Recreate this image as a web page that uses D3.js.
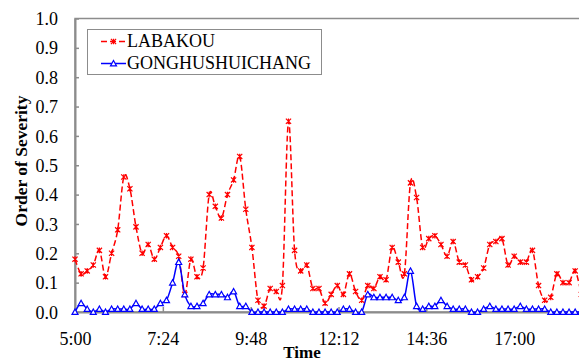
<!DOCTYPE html>
<html>
<head>
<meta charset="utf-8">
<script src="https://cdn.jsdelivr.net/npm/d3@7"></script>
<style>
  body { margin: 0; background: #fff; overflow: hidden; }
  svg { display: block; }
  text { font-family: "Liberation Serif", "Times New Roman", serif; fill: #000; }
</style>
</head>
<body>
<div id="chart"></div>
<script>
// series, one value per 10 minutes starting 5:00
var labakou = [0.18, 0.13, 0.14, 0.16, 0.21, 0.12, 0.20, 0.28, 0.46, 0.42,
  0.29, 0.20, 0.23, 0.18, 0.22, 0.26, 0.22, 0.19, 0.06, 0.18,
  0.12, 0.15, 0.40, 0.36, 0.32, 0.40, 0.45, 0.53, 0.35, 0.22,
  0.04, 0.02, 0.08, 0.07, 0.09, 0.65, 0.21, 0.14, 0.16, 0.08,
  0.08, 0.03, 0.06, 0.09, 0.06, 0.13, 0.07, 0.04, 0.09, 0.08,
  0.12, 0.11, 0.22, 0.17, 0.13, 0.44, 0.39, 0.22, 0.25, 0.26,
  0.23, 0.19, 0.24, 0.17, 0.16, 0.11, 0.12, 0.15, 0.23, 0.24,
  0.25, 0.16, 0.19, 0.17, 0.17, 0.21, 0.09, 0.04, 0.05, 0.13,
  0.10, 0.10, 0.14, 0.06];
var gonghu = [0.00, 0.03, 0.01, 0.00, 0.01, 0.00, 0.01, 0.01, 0.01, 0.01,
  0.03, 0.01, 0.01, 0.01, 0.03, 0.04, 0.10, 0.17, 0.06, 0.02,
  0.02, 0.03, 0.06, 0.06, 0.06, 0.05, 0.07, 0.02, 0.02, 0.00,
  0.00, 0.00, 0.00, 0.00, 0.00, 0.01, 0.01, 0.01, 0.01, 0.00,
  0.00, 0.00, 0.00, 0.00, 0.01, 0.01, 0.00, 0.00, 0.06, 0.05,
  0.05, 0.05, 0.05, 0.04, 0.05, 0.14, 0.02, 0.01, 0.02, 0.02,
  0.04, 0.02, 0.01, 0.01, 0.01, 0.00, 0.00, 0.01, 0.02, 0.01,
  0.01, 0.01, 0.01, 0.02, 0.01, 0.01, 0.01, 0.01, 0.00, 0.00,
  0.00, 0.00, 0.00, 0.00];
var seriesNames = ["LABAKOU", "GONGHUSHUICHANG"];
var startMinute = 300, stepMinute = 10;
var xTickValues = [300, 444, 588, 732, 876, 1020];
var xTickLabels = ["5:00", "7:24", "9:48", "12:12", "14:36", "17:00"];
var yTickValues = [0, 0.1, 0.2, 0.3, 0.4, 0.5, 0.6, 0.7, 0.8, 0.9, 1.0];

var width = 579, height = 362;
var grey = "#8c8c8c";

var svg = d3.select("#chart").append("svg")
  .attr("width", width)
  .attr("height", height);

// plot area runs past the right edge of the window, like the reference
var x = d3.scaleLinear().domain([300, 1164]).range([75, 602]);
var y = d3.scaleLinear().domain([0, 1]).range([312, 18.5]);

var minuteOf = function(i) { return startMinute + i * stepMinute; };

// plot border (top / right)
svg.append("rect")
  .attr("x", 75).attr("y", y(1))
  .attr("width", 602 - 75).attr("height", y(0) - y(1))
  .attr("fill", "none")
  .attr("stroke", grey).attr("stroke-width", 1.5);

// axes
var yAxis = d3.axisLeft(y).tickValues(yTickValues).tickFormat(d3.format(".1f"))
  .tickSizeInner(-4).tickSizeOuter(0).tickPadding(17);
var xAxis = d3.axisBottom(x).tickValues(xTickValues)
  .tickFormat(function(d, i) { return xTickLabels[i]; })
  .tickSizeInner(-5).tickSizeOuter(0).tickPadding(20);

var gy = svg.append("g").attr("transform", "translate(75,0)").call(yAxis);
var gx = svg.append("g").attr("transform", "translate(0," + y(0) + ")").call(xAxis);

[gx, gy].forEach(function(g) {
  g.select(".domain").attr("stroke", grey).attr("stroke-width", 2);
  g.selectAll(".tick line").attr("stroke", grey).attr("stroke-width", 1.5);
  g.selectAll(".tick text")
    .attr("font-family", "Liberation Serif, Times New Roman, serif")
    .attr("font-size", 18).attr("fill", "#000");
});
gy.selectAll(".tick text").attr("dy", "0.34em");
gx.selectAll(".tick text").attr("dy", "0.71em");

// axis titles
svg.append("text")
  .attr("transform", "translate(27,161) rotate(-90)")
  .attr("text-anchor", "middle")
  .attr("font-size", 17.5).attr("font-weight", "bold")
  .text("Order of Severity");

svg.append("text")
  .attr("x", 302).attr("y", 358)
  .attr("text-anchor", "middle")
  .attr("font-size", 17).attr("font-weight", "bold")
  .text("Time");

// lines
var line = d3.line()
  .x(function(d, i) { return x(minuteOf(i)); })
  .y(function(d) { return y(d); })
  .curve(d3.curveCardinal.tension(0));

svg.append("path")
  .datum(labakou)
  .attr("d", line)
  .attr("fill", "none")
  .attr("stroke", "#ff0000").attr("stroke-width", 1.5)
  .attr("stroke-dasharray", "6,3");

svg.append("path")
  .datum(gonghu)
  .attr("d", line)
  .attr("fill", "none")
  .attr("stroke", "#0000ff").attr("stroke-width", 1.5);

// markers
var starPath = "M-2.6,-2.6L2.6,2.6M-2.6,2.6L2.6,-2.6M0,-2.8L0,2.8";
var triPath = "M0,-3L3,2.4L-3,2.4Z";

svg.append("g").selectAll("path")
  .data(labakou).enter()
  .append("path")
  .attr("transform", function(d, i) { return "translate(" + x(minuteOf(i)) + "," + y(d) + ")"; })
  .attr("d", starPath)
  .attr("fill", "none")
  .attr("stroke", "#ff0000").attr("stroke-width", 1.2);

svg.append("g").selectAll("path")
  .data(gonghu).enter()
  .append("path")
  .attr("transform", function(d, i) { return "translate(" + x(minuteOf(i)) + "," + y(d) + ")"; })
  .attr("d", triPath)
  .attr("fill", "#fff")
  .attr("stroke", "#0000ff").attr("stroke-width", 1.2);

// legend
var legend = svg.append("g");
legend.append("rect")
  .attr("x", 87.5).attr("y", 29.5)
  .attr("width", 234).attr("height", 45)
  .attr("fill", "#fff")
  .attr("stroke", grey).attr("stroke-width", 1);

var legendRows = [
  { name: seriesNames[0], color: "#ff0000", dash: "6,3", marker: starPath, fill: "none", cy: 41.5 },
  { name: seriesNames[1], color: "#0000ff", dash: null, marker: triPath, fill: "#fff", cy: 63.5 }
];
legendRows.forEach(function(r) {
  legend.append("line")
    .attr("x1", 101).attr("x2", 126)
    .attr("y1", r.cy).attr("y2", r.cy)
    .attr("stroke", r.color).attr("stroke-width", 1.5)
    .attr("stroke-dasharray", r.dash);
  legend.append("path")
    .attr("transform", "translate(113.5," + r.cy + ")")
    .attr("d", r.marker)
    .attr("fill", r.fill)
    .attr("stroke", r.color).attr("stroke-width", 1.2);
  legend.append("text")
    .attr("x", 127).attr("y", r.cy + 5.5)
    .attr("font-size", 18)
    .text(r.name);
});
</script>
</body>
</html>
